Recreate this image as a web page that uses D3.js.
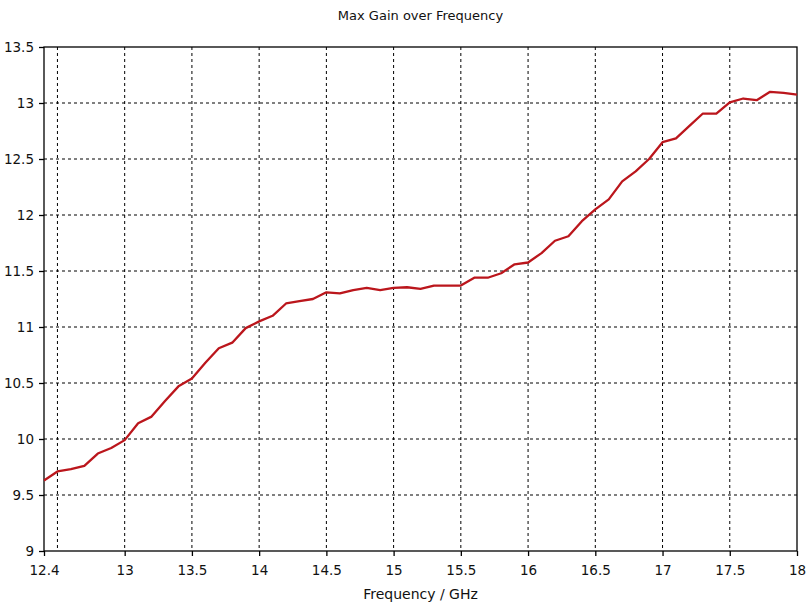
<!DOCTYPE html>
<html>
<head>
<meta charset="utf-8">
<script src="https://cdn.jsdelivr.net/npm/d3@7"></script>
<style>
  body { margin: 0; background: #fff; }
  svg { display: block; font-family: "DejaVu Sans", Verdana, sans-serif; }
</style>
</head>
<body>
<svg id="chart" width="812" height="605"></svg>
<script>
// Frequency in GHz (0.1 GHz steps) and max gain
var freq = [12.4, 12.5, 12.6, 12.7, 12.8, 12.9, 13.0, 13.1, 13.2, 13.3,
            13.4, 13.5, 13.6, 13.7, 13.8, 13.9, 14.0, 14.1, 14.2, 14.3,
            14.4, 14.5, 14.6, 14.7, 14.8, 14.9, 15.0, 15.1, 15.2, 15.3,
            15.4, 15.5, 15.6, 15.7, 15.8, 15.9, 16.0, 16.1, 16.2, 16.3,
            16.4, 16.5, 16.6, 16.7, 16.8, 16.9, 17.0, 17.1, 17.2, 17.3,
            17.4, 17.5, 17.6, 17.7, 17.8, 17.9, 18.0];
var gain = [9.63, 9.71, 9.73, 9.76, 9.87, 9.92, 9.99, 10.14, 10.20, 10.34,
            10.47, 10.54, 10.68, 10.81, 10.86, 10.99, 11.05, 11.10, 11.21, 11.23,
            11.25, 11.31, 11.30, 11.33, 11.35, 11.33, 11.35, 11.355, 11.34, 11.37,
            11.37, 11.37, 11.44, 11.44, 11.48, 11.56, 11.576, 11.66, 11.77, 11.81,
            11.945, 12.05, 12.14, 12.30, 12.39, 12.50, 12.65, 12.685, 12.795, 12.906,
            12.906, 13.005, 13.04, 13.025, 13.10, 13.09, 13.075];

var xTicks = [12.4, 13, 13.5, 14, 14.5, 15, 15.5, 16, 16.5, 17, 17.5, 18];
var xGrid  = [12.5, 13, 13.5, 14, 14.5, 15, 15.5, 16, 16.5, 17, 17.5];
var yTicks = [9, 9.5, 10, 10.5, 11, 11.5, 12, 12.5, 13, 13.5];
var yGrid  = [9.5, 10, 10.5, 11, 11.5, 12, 12.5, 13];

var title = "Max Gain over Frequency";
var xLabel = "Frequency / GHz";

// set the dimensions and margins of the graph
var margin = {top: 47, right: 15, bottom: 54, left: 44},
    width = 812 - margin.left - margin.right,
    height = 605 - margin.top - margin.bottom;

var svg = d3.select("#chart")
  .append("g")
    .attr("transform", "translate(" + margin.left + "," + margin.top + ")");

var x = d3.scaleLinear().domain([12.4, 18]).range([0, width]);
var y = d3.scaleLinear().domain([9, 13.5]).range([height, 0]);

// dashed grid
svg.selectAll(".vgrid")
  .data(xGrid)
  .enter()
  .append("line")
    .attr("x1", function(d) { return x(d); })
    .attr("x2", function(d) { return x(d); })
    .attr("y1", 0)
    .attr("y2", height)
    .attr("stroke", "#000")
    .attr("stroke-width", 1)
    .attr("stroke-dasharray", "3,3");

svg.selectAll(".hgrid")
  .data(yGrid)
  .enter()
  .append("line")
    .attr("x1", 0)
    .attr("x2", width)
    .attr("y1", function(d) { return y(d); })
    .attr("y2", function(d) { return y(d); })
    .attr("stroke", "#000")
    .attr("stroke-width", 1)
    .attr("stroke-dasharray", "3,3");

// axes
var xAxis = svg.append("g")
  .attr("transform", "translate(0," + height + ")")
  .call(d3.axisBottom(x).tickValues(xTicks).tickSize(5).tickSizeOuter(0).tickPadding(9)
    .tickFormat(function(d) { return String(d); }));

var yAxis = svg.append("g")
  .call(d3.axisLeft(y).tickValues(yTicks).tickSize(5).tickSizeOuter(0).tickPadding(5)
    .tickFormat(function(d) { return String(d); }));

[xAxis, yAxis].forEach(function(a) {
  a.select(".domain").remove();
  a.selectAll("line").attr("stroke", "#000").attr("stroke-width", 1.3);
  a.selectAll("text")
    .attr("fill", "#111")
    .style("font-size", "13.5px")
    .style("font-family", "'DejaVu Sans', Verdana, sans-serif");
});

// plot frame
svg.append("rect")
  .attr("x", 0)
  .attr("y", 0)
  .attr("width", width)
  .attr("height", height)
  .attr("fill", "none")
  .attr("stroke", "#000")
  .attr("stroke-width", 1.3);

// the gain curve
var line = d3.line()
  .x(function(d, i) { return x(freq[i]); })
  .y(function(d) { return y(d); });

svg.append("path")
  .datum(gain)
  .attr("d", line)
  .attr("fill", "none")
  .attr("stroke", "#bb161c")
  .attr("stroke-width", 2.3)
  .attr("stroke-linejoin", "round");

// title and axis label
svg.append("text")
  .attr("x", width / 2)
  .attr("y", -27)
  .attr("text-anchor", "middle")
  .style("font-size", "13px")
  .attr("fill", "#111")
  .text(title);

svg.append("text")
  .attr("x", width / 2)
  .attr("y", height + 48)
  .attr("text-anchor", "middle")
  .style("font-size", "14px")
  .attr("fill", "#111")
  .text(xLabel);
</script>
</body>
</html>
